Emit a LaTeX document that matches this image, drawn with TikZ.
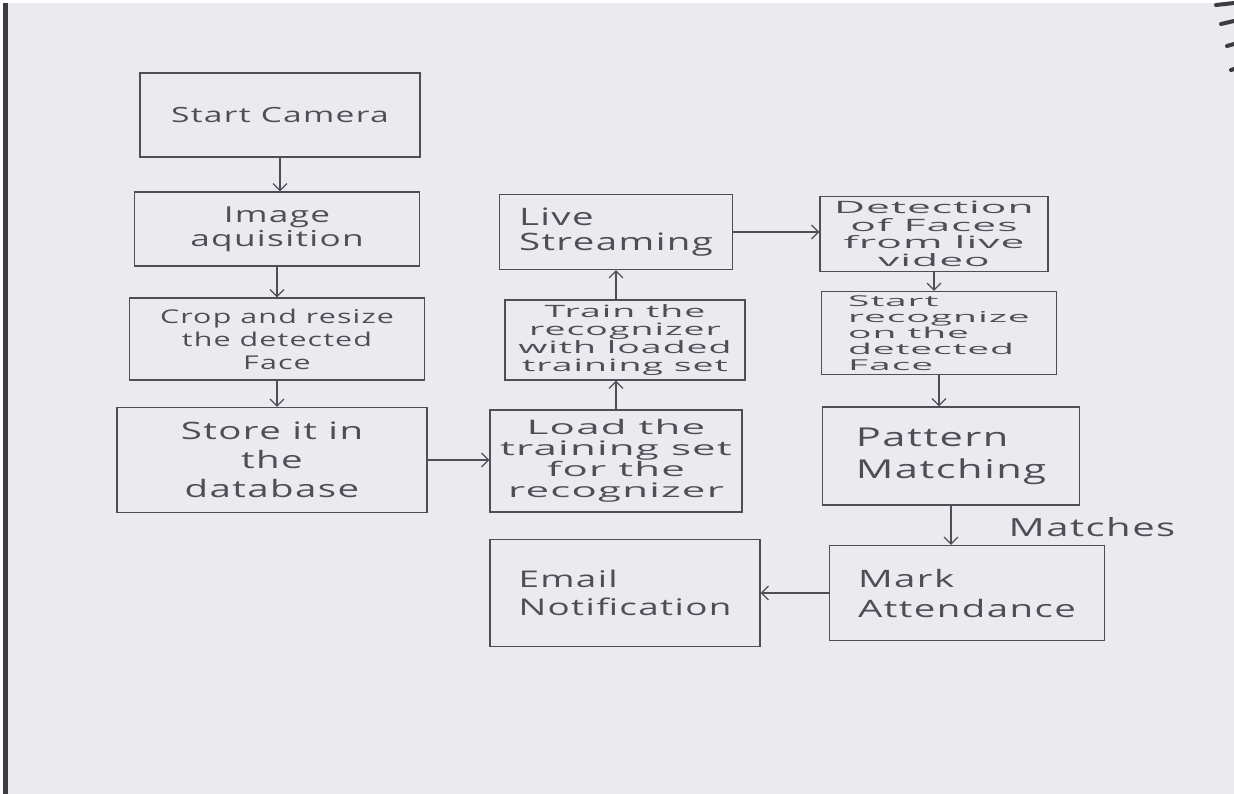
\documentclass[tikz,border=0pt]{standalone}
\usepackage{fontspec}
\setmainfont{Open Sans}[FakeStretch=1.6,LetterSpace=6]
\usetikzlibrary{arrows.meta}
\definecolor{paper}{RGB}{235,235,239}
\definecolor{ink}{RGB}{78,78,88}
\definecolor{edge}{RGB}{60,60,66}
\newcommand\fs[2]{\fontsize{#1}{#2}\selectfont}
\newcommand\wide[1]{\addfontfeatures{FakeStretch=#1}}
\tikzset{
  box/.style={draw=ink, line width=1.2pt, text=ink, inner sep=0pt, align=center},
  lbox/.style={box, align=left},
  arr/.style={draw=ink, line width=1.2pt, -{Straight Barb[length=7pt,width=14pt]}},
  lbl/.style={text=ink, inner sep=0pt},
  inkstroke/.style={draw=edge, line width=4pt, line cap=round},
}
\begin{document}
\begin{tikzpicture}[x=1pt,y=-1pt]
\useasboundingbox (0,0) rectangle (1234,794);
% paper
\fill[white] (0,0) rectangle (1234,794);
\fill[paper] (3,3) rectangle (1234,794);
\fill[edge] (3,3) rectangle (8,794);
% ink marks from the next page (top right)
\draw[inkstroke] (1216,5) -- (1234,3);
\draw[inkstroke] (1221,24) -- (1234,21);
\draw[inkstroke] (1227,46) -- (1234,44);
\draw[inkstroke] (1231,70) -- (1234,69);

% left column
\node[box, minimum width=280pt, minimum height=84pt, font=\fs{21}{25}] (start) at (280,115) {Start Camera};
\node[box, minimum width=285pt, minimum height=74pt, font=\fs{22}{24}] (image) at (277,229) {Image\\aquisition};
\node[box, minimum width=295pt, minimum height=82pt, font=\fs{19}{23}] (crop) at (277,339) {Crop and resize\\the detected\\Face};
\node[box, minimum width=310pt, minimum height=105pt, font=\fs{24}{29}] (store) at (272,460) {Store it in\\the\\database};

% middle column
\node[box, minimum width=252pt, minimum height=102pt, font=\fs{20}{21}\wide{2.1}] (load) at (616,461) {Load the\\training set\\for the\\recognizer};
\node[box, minimum width=240pt, minimum height=80pt, font=\fs{17}{18}\wide{2.2}] (train) at (625,340) {Train the\\recognizer\\with loaded\\training set};
\node[lbox, minimum width=233pt, minimum height=75pt, font=\fs{24}{25}] (live) at (616,232) {Live\\Streaming};
\node[lbox, minimum width=270pt, minimum height=107pt, font=\fs{23}{28}] (email) at (625,593) {Email\\Notification};

% right column
\node[box, minimum width=228pt, minimum height=75pt, font=\fs{17}{17.5}\wide{2.5}] (detect) at (934,234) {Detection\\of Faces\\from live\\video};
\node[lbox, minimum width=235pt, minimum height=83pt, font=\fs{15}{16}\wide{2.6}] (startrec) at (939,333) {Start\\recognize\\on the\\detected\\Face};
\node[lbox, minimum width=257pt, minimum height=98pt, font=\fs{26}{32}] (pattern) at (951,456) {Pattern\\Matching};
\node[lbox, minimum width=275pt, minimum height=95pt, font=\fs{24}{30}] (markatt) at (967,593) {Mark\\Attendance};
\node[lbl, font=\fs{25}{28}] (matches) at (1092,527) {Matches};

% connectors
\draw[arr] (start.south) -- (start.south |- image.north);
\draw[arr] (image.south) -- (image.south |- crop.north);
\draw[arr] (crop.south) -- (crop.south |- store.north);
\draw[arr] (store.east) -- (store.east -| load.west);
\draw[arr] (load.north) -- (load.north |- train.south);
\draw[arr] (live.south |- train.north) -- (live.south);
\draw[arr] (live.east) -- (live.east -| detect.west);
\draw[arr] (detect.south) -- (detect.south |- startrec.north);
\draw[arr] (startrec.south) -- (startrec.south |- pattern.north);
\draw[arr] (pattern.south) -- (pattern.south |- markatt.north);
\draw[arr] (markatt.west) -- (markatt.west -| email.east);
\end{tikzpicture}
\end{document}
